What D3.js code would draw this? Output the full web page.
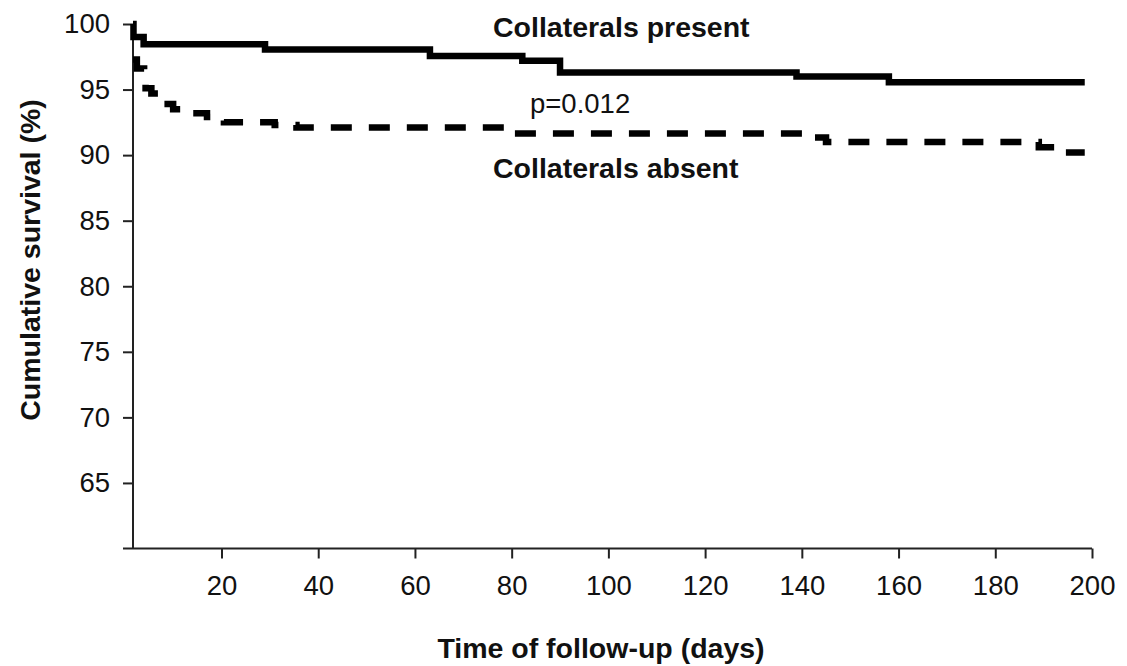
<!DOCTYPE html>
<html>
<head>
<meta charset="utf-8">
<script src="https://cdn.jsdelivr.net/npm/d3@7/dist/d3.min.js"></script>
<style>
  html, body { margin: 0; padding: 0; background: #fff; }
  svg { display: block; }
  text { font-family: "Liberation Sans", Arial, sans-serif; fill: #111; }
</style>
</head>
<body>
<svg id="chart" width="1127" height="666"></svg>
<script>
// Kaplan-Meier estimates (days, cumulative survival %)
const presentDays   = [1.7, 1.8, 3.9, 29.0, 63.1, 82.2, 90.0, 138.9, 158.0, 198.5];
const presentSurv   = [100, 99.0, 98.45, 98.05, 97.56, 97.2, 96.3, 96.0, 95.55, 95.55];

const absentDays    = [1.7, 2.5, 4.0, 4.3, 5.5, 7.0, 8.0, 10.0, 13.5, 17.0, 20.5, 31.0, 35.5, 79.6, 142.7, 145.0, 189.0, 191.5, 198.5];
const absentSurv    = [97.3, 96.6, 96.2, 95.1, 94.7, 94.3, 93.9, 93.5, 93.2, 92.9, 92.5, 92.3, 92.1, 91.65, 91.35, 91.0, 90.6, 90.2, 90.2];

const xTickValues   = [20, 40, 60, 80, 100, 120, 140, 160, 180, 200];
const yTickValues   = [65, 70, 75, 80, 85, 90, 95, 100];

const svg = d3.select("#chart");

const x = d3.scaleLinear().domain([1.7, 200]).range([133, 1092]);
const y = d3.scaleLinear().domain([60, 100]).range([548.5, 24]);

// axes
const xAxis = d3.axisBottom(x)
  .tickValues(xTickValues)
  .tickSizeInner(10)
  .tickSizeOuter(0)
  .tickPadding(17)
  .tickFormat(d3.format("d"));

const gx = svg.append("g")
  .attr("transform", `translate(0,${y(60)})`)
  .call(xAxis);
gx.select(".domain").remove();
gx.append("line")
  .attr("x1", x.range()[0] - 10).attr("x2", x.range()[1])
  .attr("stroke", "#222").attr("stroke-width", 2);
gx.selectAll(".tick line").attr("stroke", "#222").attr("stroke-width", 2);
gx.selectAll(".tick text")
  .style("font-size", "27.5px").style("fill", "#111");

const yAxis = d3.axisLeft(y)
  .tickValues(yTickValues)
  .tickSizeInner(10)
  .tickSizeOuter(0)
  .tickPadding(13)
  .tickFormat(d3.format("d"));

const gy = svg.append("g")
  .attr("transform", `translate(${x.range()[0]},0)`)
  .call(yAxis);
gy.select(".domain").remove();
gy.append("line")
  .attr("y1", y(100)).attr("y2", y(60))
  .attr("stroke", "#222").attr("stroke-width", 2);
gy.selectAll(".tick line").attr("stroke", "#222").attr("stroke-width", 2);
gy.selectAll(".tick text")
  .style("font-size", "27.5px").style("fill", "#111");

// survival curves
const step = d3.line()
  .x(d => x(d[0]))
  .y(d => y(d[1]))
  .curve(d3.curveStepAfter);

svg.append("path")
  .datum(d3.zip(presentDays, presentSurv))
  .attr("d", step)
  .attr("fill", "none")
  .attr("stroke", "#000")
  .attr("stroke-width", 6.5)
  .attr("stroke-linejoin", "miter");

svg.append("path")
  .datum(d3.zip(absentDays, absentSurv))
  .attr("d", step)
  .attr("fill", "none")
  .attr("stroke", "#000")
  .attr("stroke-width", 6.5)
  .attr("stroke-dasharray", "21,17")
  .attr("stroke-linejoin", "miter");

// annotations
svg.append("text")
  .attr("x", 493).attr("y", 37)
  .style("font-size", "28.5px").style("font-weight", "bold")
  .text("Collaterals present");

svg.append("text")
  .attr("x", 530).attr("y", 113)
  .style("font-size", "27.5px")
  .text("p=0.012");

svg.append("text")
  .attr("x", 493).attr("y", 178)
  .style("font-size", "28.5px").style("font-weight", "bold")
  .text("Collaterals absent");

// axis titles
svg.append("text")
  .attr("x", 601).attr("y", 658)
  .attr("text-anchor", "middle")
  .style("font-size", "28.5px").style("font-weight", "bold")
  .text("Time of follow-up (days)");

svg.append("text")
  .attr("transform", "translate(40,260) rotate(-90)")
  .attr("text-anchor", "middle")
  .style("font-size", "28.5px").style("font-weight", "bold")
  .text("Cumulative survival (%)");
</script>
</body>
</html>
